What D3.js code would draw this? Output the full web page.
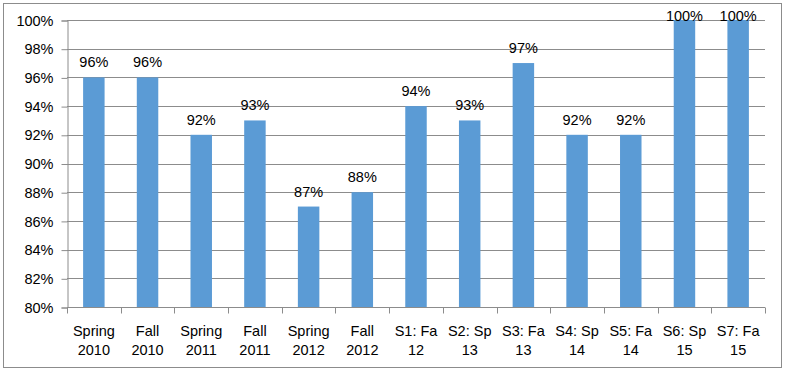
<!DOCTYPE html>
<html><head><meta charset="utf-8">
<script src="https://cdn.jsdelivr.net/npm/d3@7"></script>
<style>body{margin:0;background:#fff}svg{display:block}text{font-family:"Liberation Sans",Arial,sans-serif;fill:#000}</style>
</head><body><svg id="c" width="786" height="374"></svg>
<script>
const categories = [["Spring","2010"],["Fall","2010"],["Spring","2011"],["Fall","2011"],["Spring","2012"],["Fall","2012"],["S1: Fa","12"],["S2: Sp","13"],["S3: Fa","13"],["S4: Sp","14"],["S5: Fa","14"],["S6: Sp","15"],["S7: Fa","15"]];
const values = [96,96,92,93,87,88,94,93,97,92,92,100,100];
const yTicks = [80,82,84,86,88,90,92,94,96,98,100];

const svg = d3.select("#c");
svg.append("rect").attr("x",3.5).attr("y",3.5).attr("width",778).attr("height",364)
  .attr("fill","#fff").attr("stroke","#8c8c8c").attr("stroke-width",1);

const L=67, R=765, T=20, B=307;
const keys = categories.map((d,i)=>i);
const x = d3.scaleBand().domain(keys).range([L,R]).paddingInner(0.6).paddingOuter(0.3);
const y = d3.scaleLinear().domain([80,100]).range([B,T]);

// gridlines
svg.append("g").selectAll("line").data(yTicks.filter(t=>t>80)).join("line")
  .attr("x1",L).attr("x2",R).attr("y1",d=>Math.round(y(d))+0.5).attr("y2",d=>Math.round(y(d))+0.5)
  .attr("stroke","#8c8c8c").attr("stroke-width",1);

// bars
svg.append("g").selectAll("rect").data(values).join("rect")
  .attr("x",(d,i)=>x(i)).attr("width",x.bandwidth())
  .attr("y",d=>y(d)).attr("height",d=>y(80)-y(d)).attr("fill","#5B9BD5");

// y axis
const yAxis = d3.axisLeft(y).tickValues(yTicks).tickFormat(d=>d+"%").tickSize(6).tickPadding(8);
const gy = svg.append("g").attr("transform",`translate(${L+0.5},0.5)`).call(yAxis);
gy.select(".domain").attr("stroke","#8c8c8c");
gy.selectAll(".tick line").attr("stroke","#8c8c8c");
gy.selectAll("text").attr("font-size",14.5).attr("fill","#000").style("font-family","'Liberation Sans',Arial,sans-serif");

// x axis
const gx = svg.append("g").attr("transform",`translate(0,${B+0.5})`);
gx.append("line").attr("x1",L).attr("x2",R).attr("stroke","#8c8c8c");
const step = x.step();
const bounds = d3.range(categories.length+1).map(i=>L+i*step);
gx.selectAll("line.t").data(bounds).join("line").attr("class","t")
  .attr("x1",d=>Math.round(d)+0.5).attr("x2",d=>Math.round(d)+0.5).attr("y1",0).attr("y2",6).attr("stroke","#8c8c8c");
const lab = gx.selectAll("text").data(categories).join("text")
  .attr("text-anchor","middle").attr("font-size",14.5)
  .attr("transform",(d,i)=>`translate(${x(i)+x.bandwidth()/2},0)`);
lab.append("tspan").attr("x",0).attr("y",28).text(d=>d[0]);
lab.append("tspan").attr("x",0).attr("y",47).text(d=>d[1]);

// data labels
svg.append("g").selectAll("text").data(values).join("text")
  .attr("x",(d,i)=>x(i)+x.bandwidth()/2).attr("y",d=>Math.max(y(d)-10,21))
  .attr("text-anchor","middle").attr("font-size",14.5).text(d=>d+"%");
</script></body></html>
